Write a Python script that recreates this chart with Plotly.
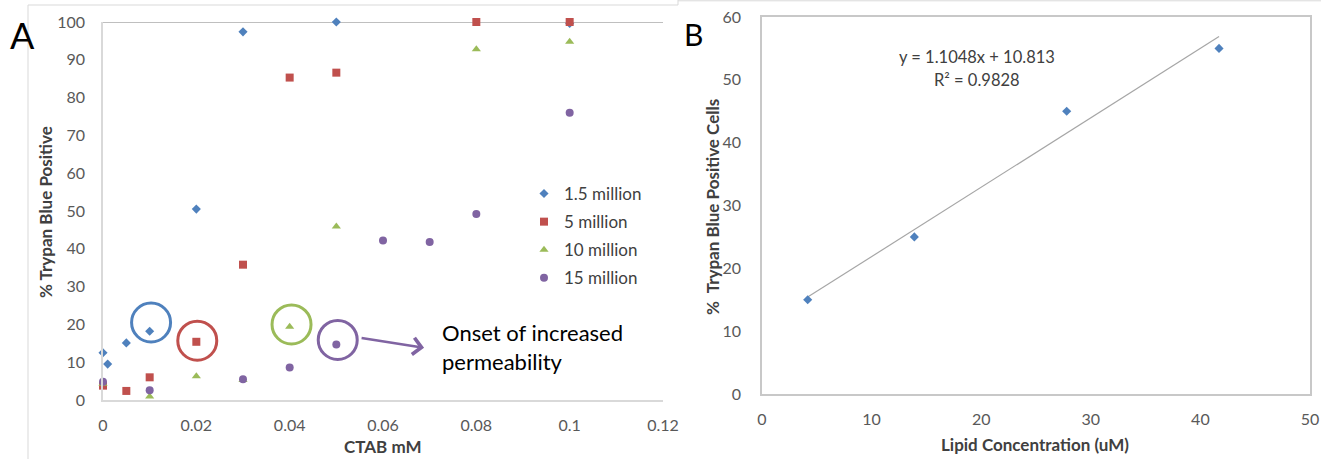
import plotly.graph_objects as go

# ---------------- Data: panel A (CTAB mM vs % Trypan Blue Positive) ----------------
ctab_1p5m = [0, 0.001, 0.005, 0.01, 0.02, 0.03, 0.05, 0.1]
pct_1p5m = [12.5, 9.5, 15.1, 18.2, 50.5, 97.4, 100, 99.6]

ctab_5m = [0, 0.005, 0.01, 0.02, 0.03, 0.04, 0.05, 0.08, 0.1]
pct_5m = [3.8, 2.4, 6.0, 15.4, 35.8, 85.3, 86.6, 100, 100]

ctab_10m = [0, 0.01, 0.02, 0.03, 0.04, 0.05, 0.08, 0.1]
pct_10m = [4.3, 0.9, 6.3, 5.3, 19.4, 45.9, 92.8, 94.8]

ctab_15m = [0, 0.01, 0.03, 0.04, 0.05, 0.06, 0.07, 0.08, 0.1]
pct_15m = [4.8, 2.6, 5.5, 8.6, 14.7, 42.2, 41.8, 49.2, 76.0]

series_names = ["1.5 million", "5 million", "10 million", "15 million"]
series_colors = ["#4F81BD", "#C0504D", "#9BBB59", "#8064A2"]
series_symbols = ["diamond", "square", "triangle-up", "circle"]

# ---------------- Data: panel B (Lipid concentration vs % TB positive) ----------------
lipid_um = [4.17, 13.9, 27.8, 41.7]
tb_positive = [15, 25, 45, 55]
trend_slope = 1.1048
trend_intercept = 10.813
trend_r2 = 0.9828

W, H = 1321, 459
FONT = "Lato, 'Open Sans', 'DejaVu Sans', sans-serif"


def fx(p):
    return p / W


def fy(p):
    return 1 - p / H


fig = go.Figure()

xs_all = [ctab_1p5m, ctab_5m, ctab_10m, ctab_15m]
ys_all = [pct_1p5m, pct_5m, pct_10m, pct_15m]
sizes = [7, 8, 8, 8]
for name, xs, ys, col, sym, sz in zip(series_names, xs_all, ys_all, series_colors, series_symbols, sizes):
    fig.add_trace(go.Scatter(
        x=xs, y=ys, mode="markers", name=name, legendgroup=name,
        marker=dict(symbol=sym, size=sz, color=col, line=dict(width=0)),
        cliponaxis=False, xaxis="x", yaxis="y",
    ))

# trendline panel B
tx = [min(lipid_um), max(lipid_um)]
ty = [trend_slope * v + trend_intercept for v in tx]
fig.add_trace(go.Scatter(
    x=tx, y=ty, mode="lines", line=dict(color="#A6A6A6", width=1.2),
    showlegend=False, xaxis="x2", yaxis="y2", hoverinfo="skip",
))
fig.add_trace(go.Scatter(
    x=lipid_um, y=tb_positive, mode="markers",
    marker=dict(symbol="diamond", size=7, color="#4F81BD"),
    showlegend=False, cliponaxis=False, xaxis="x2", yaxis="y2",
))

tickfont = dict(family=FONT, size=16, color="#595959")

fig.update_layout(
    width=W, height=H,
    margin=dict(l=0, r=0, t=0, b=0, autoexpand=False),
    paper_bgcolor="white", plot_bgcolor="white",
    font=dict(family=FONT),
    xaxis=dict(domain=[fx(103), fx(663)], range=[0, 0.12], anchor="y", automargin=False,
               tickmode="array", tickvals=[0, 0.02, 0.04, 0.06, 0.08, 0.1, 0.12],
               ticktext=["0", "0.02", "0.04", "0.06", "0.08", "0.1", "0.12"],
               showgrid=False, zeroline=False, showline=True, linecolor="#D9D9D9", linewidth=1.5,
               ticks="", tickfont=tickfont, ticklabelstandoff=10),
    yaxis=dict(domain=[fy(400), fy(22)], range=[0, 100], anchor="x", automargin=False,
               tickmode="linear", tick0=0, dtick=10,
               showgrid=False, zeroline=False, showline=True, linecolor="#D9D9D9", linewidth=1.5,
               ticks="", tickfont=tickfont, ticklabelstandoff=13),
    xaxis2=dict(domain=[fx(762), fx(1310)], range=[0, 50], anchor="y2", automargin=False,
                tickmode="linear", tick0=0, dtick=10,
                showgrid=False, zeroline=False, showline=True, mirror=True,
                linecolor="#C8C8C8", linewidth=1.5,
                ticks="", tickfont=tickfont, ticklabelstandoff=10),
    yaxis2=dict(domain=[fy(394), fy(17)], range=[0, 60], anchor="x2", automargin=False,
                tickmode="linear", tick0=0, dtick=10,
                showgrid=False, zeroline=False, showline=True, mirror=True,
                linecolor="#C8C8C8", linewidth=1.5,
                ticks="", tickfont=tickfont, ticklabelstandoff=16),
    legend=dict(x=fx(524), y=fy(176), xanchor="left", yanchor="top",
                font=dict(family=FONT, size=17, color="#404040"),
                bgcolor="rgba(0,0,0,0)", traceorder="grouped", tracegroupgap=3,
                itemsizing="trace"),
    showlegend=True,
)

shapes = []
# top line of panel A plot area
shapes.append(dict(type="line", xref="x domain", yref="y", x0=0, x1=1, y0=100, y1=100,
                   line=dict(color="#BFBFBF", width=2), layer="below"))
# chart frames
frame = dict(color="#D9D9D9", width=1)
shapes.append(dict(type="line", xref="paper", yref="paper", x0=fx(28), x1=fx(678), y0=fy(5), y1=fy(5), line=frame))
shapes.append(dict(type="line", xref="paper", yref="paper", x0=fx(28), x1=fx(28), y0=0, y1=fy(5), line=frame))
shapes.append(dict(type="line", xref="paper", yref="paper", x0=fx(678), x1=1, y0=fy(0.8), y1=fy(0.8), line=frame))
shapes.append(dict(type="line", xref="paper", yref="paper", x0=fx(678), x1=fx(678), y0=fy(5), y1=1, line=frame))

# highlight circles (pixel sized, anchored in data space)
circle_specs = [
    (0.0103, 20.5, "#4F81BD"),
    (0.0202, 15.7, "#C0504D"),
    (0.0404, 20.0, "#9BBB59"),
    (0.0503, 15.9, "#8064A2"),
]
r = 19.5
for cx, cy, col in circle_specs:
    shapes.append(dict(type="circle", xref="x", yref="y",
                       xsizemode="pixel", ysizemode="pixel",
                       xanchor=cx, yanchor=cy, x0=-r, x1=r, y0=-r, y1=r,
                       line=dict(color=col, width=3)))
fig.update_layout(shapes=shapes)

ann = []
# arrow
ann.append(dict(xref="x", yref="y", x=0.0688, y=13.8, ax=-64, ay=-10, axref="pixel", ayref="pixel",
                text="", showarrow=True, arrowhead=4, arrowsize=1.3, arrowwidth=2.5,
                arrowcolor="#8064A2", standoff=0, startstandoff=0))
ann.append(dict(xref="paper", yref="paper", x=fx(440), y=fy(347), xanchor="left", yanchor="middle",
                text="Onset of increased<br>permeability", showarrow=False, align="left",
                font=dict(family=FONT, size=22, color="#000000")))
# panel labels
ann.append(dict(xref="paper", yref="paper", x=fx(22), y=fy(35), xanchor="center", yanchor="middle",
                text="A", showarrow=False, font=dict(family=FONT, size=36, color="#000000")))
ann.append(dict(xref="paper", yref="paper", x=fx(694), y=fy(34), xanchor="center", yanchor="middle",
                text="B", showarrow=False, font=dict(family=FONT, size=30, color="#000000")))
# axis titles
title_font = dict(family=FONT, size=17, color="#404040")
centered = dict(xref="paper", yref="paper", xanchor="center", yanchor="middle", showarrow=False)
ann.append(dict(centered, x=fx(45), y=fy(212), textangle=-90,
                text="<b>% Trypan Blue Positive</b>", font=title_font))
ann.append(dict(centered, x=fx(383), y=fy(446),
                text="<b>CTAB mM</b>", font=title_font))
ann.append(dict(centered, x=fx(713), y=fy(207), textangle=-90,
                text="<b>%  Trypan Blue Positive Cells</b>", font=title_font))
ann.append(dict(centered, x=fx(1035), y=fy(444),
                text="<b>Lipid Concentration (uM)</b>", font=title_font))
# trendline equation
eq_font = dict(family=FONT, size=16.5, color="#404040")
ann.append(dict(centered, x=fx(977), y=fy(57),
                text=f"y = {trend_slope}x + {trend_intercept}", font=eq_font))
ann.append(dict(centered, x=fx(977), y=fy(80),
                text=f"R² = {trend_r2}", font=eq_font))
fig.update_layout(annotations=ann)

fig.write_html("out.html", config={"displayModeBar": False},
               post_script="document.body.style.margin='0';document.body.style.overflow='hidden';")
